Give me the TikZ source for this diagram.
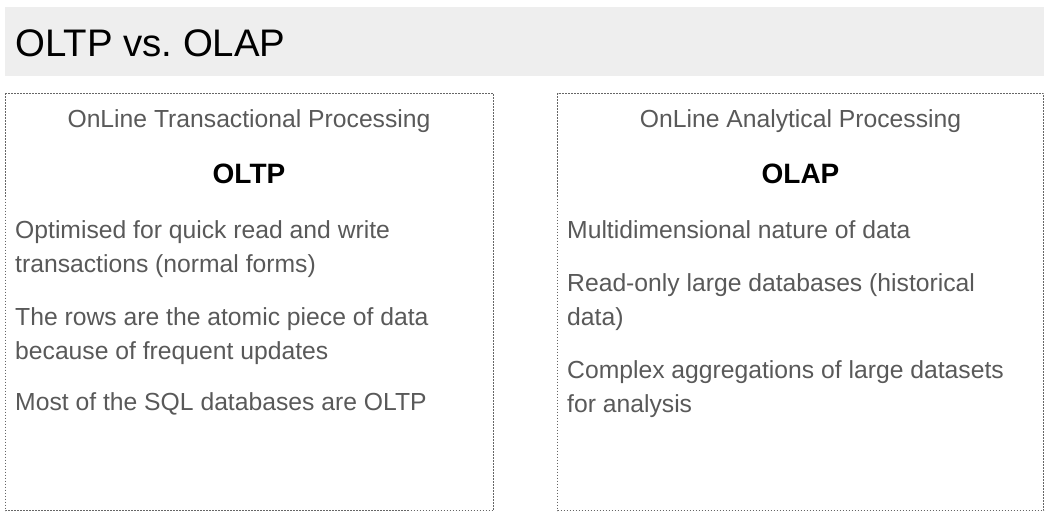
\documentclass[tikz,border=0pt]{standalone}
\usepackage{fontspec}
\setmainfont{Liberation Sans}
\frenchspacing
\definecolor{bar}{HTML}{EEEEEE}
\definecolor{txt}{HTML}{595959}
\definecolor{dotc}{HTML}{666666}
\begin{document}
\begin{tikzpicture}[x=1pt,y=-1pt,
  body/.style={anchor=base west,inner sep=0pt,text=txt,font=\fontsize{24.7}{30}\selectfont},
  sub/.style={anchor=base,inner sep=0pt,text=txt,font=\fontsize{24.7}{30}\selectfont},
  head/.style={anchor=base,inner sep=0pt,text=black,font=\fontsize{28}{32}\selectfont\bfseries},
  panel/.style={draw=dotc,line width=1.1pt,dash pattern=on 1.1pt off 1.9pt}]
\useasboundingbox (0,0) rectangle (1049,516);
\fill[bar] (5,7) rectangle (1044,76);
\node[anchor=base west,inner sep=0pt,font=\fontsize{38.4}{44}\selectfont] (title) at (15,57) {OLTP vs.\ OLAP};
\draw[panel] (5.5,93.5) rectangle (493.5,510.5);
\draw[panel] (557.5,93.5) rectangle (1043.5,510.5);
% left
\node[sub] (lsub) at (249,127.5) {OnLine Transactional Processing};
\node[head] (lhead) at (249,183.5) {OLTP};
\node[body] (l1) at (15,238.5) {Optimised for quick read and write};
\node[body] (l2) at (15,272.5) {transactions (normal forms)};
\node[body] (l3) at (15,325) {The rows are the atomic piece of data};
\node[body] (l4) at (15,359.5) {because of frequent updates};
\node[body] (l5) at (15,410.5) {Most of the SQL databases are OLTP};
% right
\node[sub] (rsub) at (800.5,127.5) {OnLine Analytical Processing};
\node[head] (rhead) at (800.5,183.5) {OLAP};
\node[body] (r1) at (567,238.5) {Multidimensional nature of data};
\node[body] (r2) at (567,291.5) {Read-only large databases (historical};
\node[body] (r3) at (567,325.5) {data)};
\node[body] (r4) at (567,378.5) {Complex aggregations of large datasets};
\node[body] (r5) at (567,412) {for analysis};
\end{tikzpicture}
\end{document}
